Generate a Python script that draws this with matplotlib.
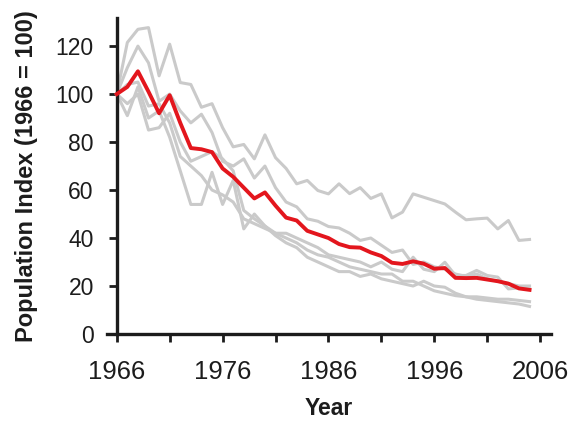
import matplotlib
matplotlib.use("Agg")
import matplotlib.pyplot as plt
import numpy as np

years = list(range(1966, 2006))

mean_index = [100, 103, 109.5, 101, 92, 99.5, 88, 77.5, 77, 75.8,
              69, 65.5, 61, 56.5, 59, 53.5, 48.5, 47.3, 43, 41.5,
              40, 37.5, 36.2, 36, 34, 32.5, 29.7, 29.2, 30.3, 29.3,
              27.2, 27.5, 23.4, 23.3, 23.4, 22.7, 22, 21, 19, 18.4]

series_a = [100, 121.5, 127, 127.7, 107.6, 120.8, 104.8, 104, 94.5, 96,
            86, 78, 79, 73, 83, 73.5, 69, 62.6, 64, 59.8,
            58.4, 62.6, 58.5, 61, 56.5, 58.4, 48.4, 50.8, 58.4, 57,
            55.6, 54.2, 50.8, 47.6, 48, 48.3, 43.8, 47.3, 39, 39.4]

series_b = [100, 111, 120, 113, 97, 100, 93, 88, 91.6, 84,
            72, 70, 73, 65, 70, 61, 55, 53, 48, 47,
            44.8, 44.2, 42, 39, 40, 37, 34, 35, 29, 30,
            28, 27, 25, 24, 25, 23, 22, 21, 20, 20]

series_c = [100, 91, 103, 90, 93, 82, 68, 54, 54, 67.4,
            54, 64, 43.8, 50, 45, 41, 38, 36, 32, 30,
            28, 26, 26, 24, 25, 23, 22, 21, 20, 22,
            20, 19.5, 17, 15.5, 15.5, 15, 14.5, 14.5, 14, 13.5]

series_d = [100, 96, 100, 85, 86, 92, 80, 72, 74, 76,
            73, 68, 51.5, 48, 45, 42, 40, 38, 35, 33,
            32, 30, 28, 27, 26, 25, 25, 22, 22, 20,
            18, 17, 16, 15.5, 14.5, 14, 13.5, 13, 12.5, 11.5]

series_e = [100, 104, 105, 95, 96, 88, 74, 70, 66, 60,
            58, 55, 48, 46, 44, 42, 42, 40, 38, 36,
            33, 32, 31, 30, 28, 30, 27, 26, 32, 27,
            26, 29.9, 24.4, 24.4, 26.5, 24.4, 23.7, 18.8, 19.2, 18.8]

gray_series = [series_a, series_b, series_c, series_d, series_e]

xticks = list(range(1966, 2007, 5))
xticklabels = [str(y) if (y - 1966) % 10 == 0 else "" for y in xticks]
yticks = [0, 20, 40, 60, 80, 100, 120]

plt.rcParams['font.family'] = ['Liberation Sans', 'DejaVu Sans']

fig = plt.figure(figsize=(5.84, 4.23), dpi=100)
ax = fig.add_axes([0.1827, 0.2104, 0.9430 - 0.1827, 0.9574 - 0.2104])

for s in gray_series:
    ax.plot(years, s, color="#cacaca", lw=2.2, zorder=2)
ax.plot(years, mean_index, color="#e3161d", lw=2.8, zorder=3)

ax.set_xlim(1965.05, 2007.0)
ax.set_ylim(0, 131.7)
ax.spines['left'].set_position(('data', 1966))
ax.spines['top'].set_visible(False)
ax.spines['right'].set_visible(False)
for sp in ('left', 'bottom'):
    ax.spines[sp].set_linewidth(2.4)
    ax.spines[sp].set_color("#1c1c1c")

ax.set_xticks(xticks)
ax.set_xticklabels(xticklabels)
ax.set_yticks(yticks)
ax.tick_params(axis='both', direction='out', length=6, width=2.0,
               color="#1c1c1c", labelcolor="#1c1c1c")
ax.tick_params(axis='x', pad=13, labelsize=18.5)
ax.tick_params(axis='y', pad=10.5, labelsize=16.5)

ax.set_xlabel("Year", fontsize=16.5, fontweight='bold', color="#1c1c1c", labelpad=9)
ax.set_ylabel("Population Index (1966 = 100)", fontsize=17, fontweight='bold',
              color="#1c1c1c", labelpad=13)

fig.savefig("out.png", dpi=100)
